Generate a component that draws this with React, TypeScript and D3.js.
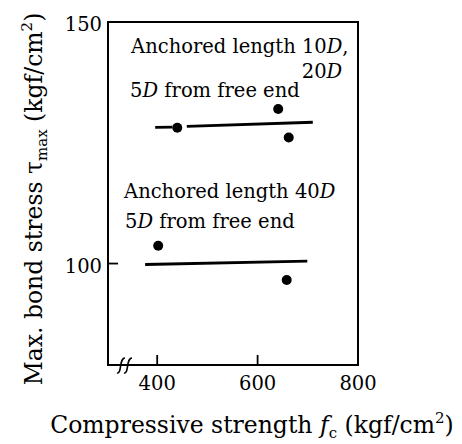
import React, { useEffect, useRef } from 'react';
import * as d3 from 'd3';

// measured points (compressive strength, max bond stress)
const upperPoints: [number, number][] = [[440, 128.1], [641, 132.0], [662, 126.1]];
const lowerPoints: [number, number][] = [[402, 103.7], [658, 96.6]];

// fitted lines, upper one is drawn broken around the first point
const upperLine: [number, number][][] = [
  [[396, 128.2], [430, 128.25]],
  [[459, 128.4], [710, 129.25]],
];
const lowerLine: [number, number][] = [[376, 99.8], [699, 100.5]];

const xTicks = [400, 600, 800];
const yTicks = [100, 150];

// annotation text: [roman, italic, roman] pieces, anchored in data units
const notes = [
  { x: 348, y: 143.6, parts: ['Anchored length 10', 'D', ','] },
  { x: 688, y: 138.4, parts: ['20', 'D', ''] },
  { x: 346, y: 134.5, parts: ['5', 'D', ' from free end'] },
  { x: 334, y: 113.6, parts: ['Anchored length 40', 'D', ''] },
  { x: 336, y: 107.4, parts: ['5', 'D', ' from free end'] },
];

const FONT = '"DejaVu Serif", serif';

const App = () => {
  const ref = useRef<SVGSVGElement>(null);

  useEffect(() => {
    const svg = d3.select(ref.current);
    svg.selectAll('*').remove();

    const x = d3.scaleLinear().domain([302, 800]).range([108, 358]);
    const y = d3.scaleLinear().domain([79, 150]).range([365, 22]);

    // frame
    svg.append('rect')
      .attr('x', x(302)).attr('y', y(150))
      .attr('width', x(800) - x(302)).attr('height', y(79) - y(150))
      .attr('fill', 'none').attr('stroke', '#000').attr('stroke-width', 2);

    // inward ticks
    svg.selectAll('.xt').data(xTicks.filter(d => d < 800)).enter()
      .append('line')
      .attr('x1', d => x(d)).attr('x2', d => x(d))
      .attr('y1', y(79)).attr('y2', y(79) - 10)
      .attr('stroke', '#000').attr('stroke-width', 1.8);
    svg.selectAll('.yt').data(yTicks.filter(d => d < 150)).enter()
      .append('line')
      .attr('x1', x(302)).attr('x2', x(302) + 10)
      .attr('y1', d => y(d)).attr('y2', d => y(d))
      .attr('stroke', '#000').attr('stroke-width', 1.8);

    // tick labels
    svg.selectAll('.xl').data(xTicks).enter()
      .append('text')
      .attr('x', d => x(d)).attr('y', y(79) + 25)
      .attr('text-anchor', 'middle')
      .style('font-family', FONT).style('font-size', '19.5px')
      .text(d => d);
    svg.selectAll('.yl').data(yTicks).enter()
      .append('text')
      .attr('x', x(302) - 6).attr('y', d => y(d) + 9)
      .attr('text-anchor', 'end')
      .style('font-family', FONT).style('font-size', '19.5px')
      .text(d => d);

    // axis break marks
    const bx = [121, 128];
    svg.selectAll('.brk').data(bx).enter()
      .append('path')
      .attr('d', d => `M${d - 4},${y(79) + 8} C${d + 1},${y(79) + 9} ${d - 2},${y(79) - 7} ${d + 4},${y(79) - 7}`)
      .attr('fill', 'none').attr('stroke', '#000').attr('stroke-width', 1.6);

    const line = d3.line<[number, number]>().x(d => x(d[0])).y(d => y(d[1]));

    svg.selectAll('.ul').data(upperLine).enter()
      .append('path')
      .attr('d', d => line(d))
      .attr('fill', 'none').attr('stroke', '#000').attr('stroke-width', 2.8);
    svg.append('path')
      .attr('d', line(lowerLine))
      .attr('fill', 'none').attr('stroke', '#000').attr('stroke-width', 2.8);

    svg.selectAll('.pt').data([...upperPoints, ...lowerPoints]).enter()
      .append('circle')
      .attr('cx', d => x(d[0])).attr('cy', d => y(d[1]))
      .attr('r', 5).attr('fill', '#000');

    // annotations
    notes.forEach(n => {
      const t = svg.append('text')
        .attr('x', x(n.x)).attr('y', y(n.y))
        .style('font-family', FONT).style('font-size', '19.5px');
      t.append('tspan').text(n.parts[0]);
      t.append('tspan').style('font-style', 'italic').text(n.parts[1]);
      if (n.parts[2]) t.append('tspan').text(n.parts[2]);
    });

    // y axis title
    const yt = svg.append('text')
      .attr('transform', 'translate(42,199) rotate(-90)')
      .attr('text-anchor', 'middle')
      .style('font-family', FONT).style('font-size', '23.5px');
    yt.append('tspan').text('Max. bond stress τ');
    yt.append('tspan').attr('dy', 5).style('font-size', '15px').text('max');
    yt.append('tspan').attr('dy', -5).text(' (kgf/cm');
    yt.append('tspan').attr('dy', -10).style('font-size', '15px').text('2');
    yt.append('tspan').attr('dy', 10).text(')');

    // x axis title
    const xt = svg.append('text')
      .attr('x', 252).attr('y', 433)
      .attr('text-anchor', 'middle')
      .style('font-family', FONT).style('font-size', '23.5px');
    xt.append('tspan').text('Compressive strength ');
    xt.append('tspan').style('font-style', 'italic').text('f');
    xt.append('tspan').attr('dy', 5).style('font-size', '15px').text('c');
    xt.append('tspan').attr('dy', -5).text(' (kgf/cm');
    xt.append('tspan').attr('dy', -10).style('font-size', '15px').text('2');
    xt.append('tspan').attr('dy', 10).text(')');
  }, []);

  return (
    <svg ref={ref} width={462} height={444}
      style={{ position: 'absolute', left: 0, top: 0, background: '#fff' }} />
  );
};

export default App;
